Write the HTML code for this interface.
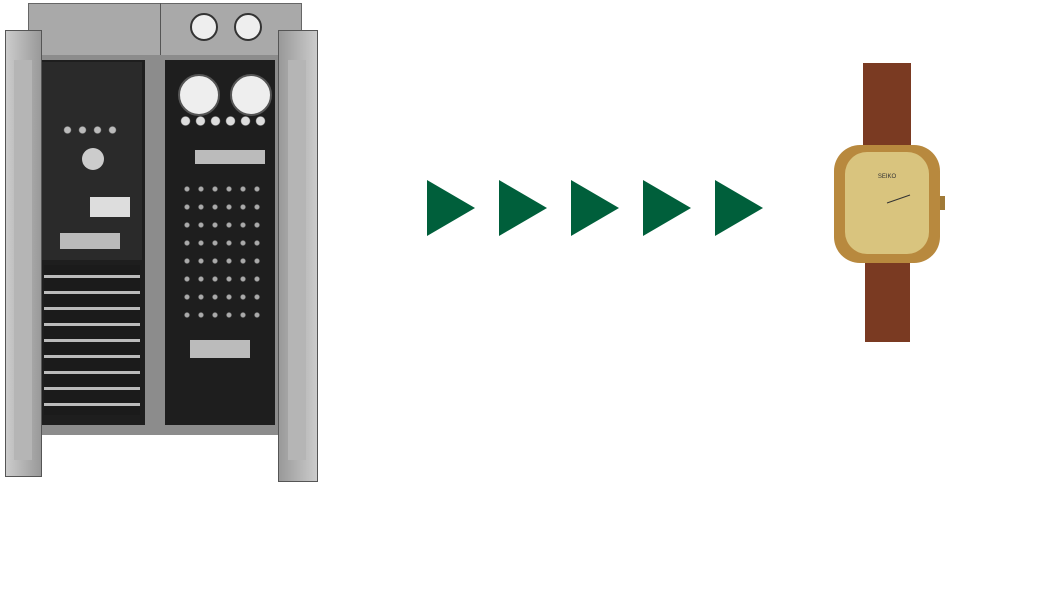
<!DOCTYPE html>
<html><head><meta charset="utf-8"><style>
body{margin:0;width:1047px;height:589px;background:#fff;position:relative;overflow:hidden}
div{position:absolute}
</style></head><body>
<div style="left:28px;top:3px;width:272px;height:52px;background:#a9a9a9;border:1px solid #666"></div>
<div style="left:160px;top:3px;width:1px;height:52px;background:#555"></div>
<div style="left:190px;top:13px;width:24px;height:24px;border-radius:50%;background:#eee;border:2px solid #333"></div>
<div style="left:234px;top:13px;width:24px;height:24px;border-radius:50%;background:#eee;border:2px solid #333"></div>
<div style="left:28px;top:55px;width:272px;height:380px;background:#8c8c8c"></div>
<div style="left:40px;top:60px;width:105px;height:365px;background:#1e1e1e"></div>
<div style="left:165px;top:60px;width:110px;height:365px;background:#1e1e1e"></div>
<div style="left:42px;top:62px;width:100px;height:198px;background:#2a2a2a"></div>
<div style="left:44px;top:265px;width:96px;height:150px;background:repeating-linear-gradient(#1b1b1b 0 10px,#bbb 10px 13px,#1b1b1b 13px 16px)"></div>
<div style="left:178px;top:74px;width:38px;height:38px;border-radius:50%;background:#eee;border:2px solid #555"></div>
<div style="left:230px;top:74px;width:38px;height:38px;border-radius:50%;background:#eee;border:2px solid #555"></div>
<div style="left:178px;top:114px;width:90px;height:14px;background:radial-gradient(circle,#ddd 0 4px,transparent 5px) 0 0/15px 14px"></div>
<div style="left:180px;top:180px;width:85px;height:150px;background:radial-gradient(circle,#aaa 0 2px,transparent 3px) 0 0/14px 18px"></div>
<div style="left:82px;top:148px;width:22px;height:22px;border-radius:50%;background:#ccc"></div>
<div style="left:60px;top:125px;width:60px;height:10px;background:radial-gradient(circle,#bbb 0 3px,transparent 4px) 0 0/15px 10px"></div>
<div style="left:90px;top:197px;width:40px;height:20px;background:#ddd"></div>
<div style="left:60px;top:233px;width:60px;height:16px;background:#bbb"></div>
<div style="left:195px;top:150px;width:70px;height:14px;background:#bbb"></div>
<div style="left:190px;top:340px;width:60px;height:18px;background:#bbb"></div>
<div style="left:5px;top:30px;width:35px;height:445px;background:linear-gradient(90deg,#ccc,#999);border:1px solid #555"></div>
<div style="left:278px;top:30px;width:38px;height:450px;background:linear-gradient(90deg,#999,#ccc);border:1px solid #555"></div>
<div style="left:14px;top:60px;width:18px;height:400px;background:#b5b5b5"></div>
<div style="left:288px;top:60px;width:18px;height:400px;background:#b5b5b5"></div>
<svg style="position:absolute;left:0;top:0" width="1047" height="589">
<g fill="#005f3b">
<polygon points="427,180 475,208 427,236"/>
<polygon points="499,180 547,208 499,236"/>
<polygon points="571,180 619,208 571,236"/>
<polygon points="643,180 691,208 643,236"/>
<polygon points="715,180 763,208 715,236"/>
</g>
<rect x="863" y="63" width="48" height="90" fill="#7a3a22"/>
<rect x="865" y="250" width="45" height="92" fill="#7a3a22"/>
<rect x="834" y="145" width="106" height="118" rx="26" fill="#b8893e"/>
<rect x="845" y="152" width="84" height="102" rx="22" fill="#d9c47e"/>
<text x="887" y="178" font-family="Liberation Sans" font-size="6" fill="#333" text-anchor="middle">SEIKO</text>
<line x1="887" y1="203" x2="910" y2="195" stroke="#333" stroke-width="1"/>
<rect x="940" y="196" width="5" height="14" fill="#a07a38"/>
</svg>
</body></html>
